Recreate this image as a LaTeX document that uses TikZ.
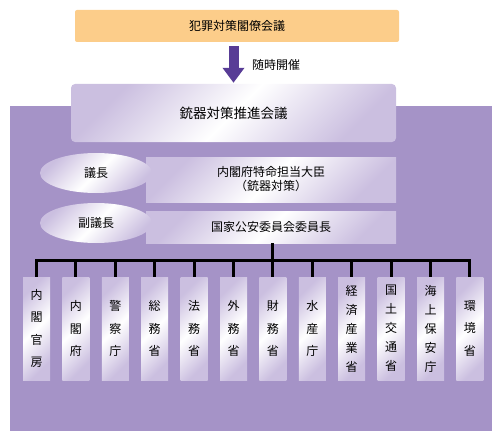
\documentclass[tikz,border=0pt]{standalone}
\usepackage{fontspec}
\newfontfamily\jp{Noto Sans CJK JP}
\usetikzlibrary{shapes.geometric,arrows.meta}
\definecolor{bgpurple}{RGB}{165,147,199}
\definecolor{lav}{RGB}{203,191,224}
\definecolor{orangebox}{RGB}{252,205,138}
\definecolor{arrowpurple}{RGB}{88,60,150}
\begin{document}
\begin{tikzpicture}[x=1pt,y=-1pt,
  shadebox/.style={shading=axis, top color=lav, bottom color=lav, middle color=white, shading angle=45, inner sep=0pt},
  minbox/.style={shadebox, rectangle, minimum width=27pt, minimum height=103pt, align=center, font=\jp\fontsize{12}{22.5}\selectfont},
  minbox5/.style={minbox, font=\jp\fontsize{12}{19}\selectfont},
  oval/.style={shadebox, ellipse, minimum width=112pt, minimum height=40pt, font=\jp\fontsize{12}{14}\selectfont},
  tree/.style={line width=3pt, black}]
\useasboundingbox (0,0) rectangle (502,441);
% purple background
\fill[bgpurple] (10,106) rectangle (492,431);
% top box
\node[fill=orangebox, rounded corners=2pt, minimum width=324pt, minimum height=32pt, inner sep=0pt, font=\jp\fontsize{12}{14}\selectfont] (top) at (237,26) {犯罪対策閣僚会議};
% meeting box
\node[shadebox, rounded corners=4pt, minimum width=325pt, minimum height=58pt, font=\jp\fontsize{13.5}{15}\selectfont] (mtg) at (233.5,113) {銃器対策推進会議};
% arrow
\draw[arrowpurple, line width=10pt, -{Triangle[width=21pt,length=15pt]}, shorten >=1pt] ([yshift=-4pt]mtg.north |- top.south) -- (mtg.north);
\node[anchor=west, inner sep=0pt, font=\jp\fontsize{12}{14}\selectfont] (rinji) at (252,65) {随時開催};
% chair boxes
\node[shadebox, minimum width=250pt, minimum height=45pt, align=center, font=\jp\fontsize{12}{14}\selectfont] (daijin) at (271,179.5) {内閣府特命担当大臣\\（銃器対策）};
\node[shadebox, minimum width=250pt, minimum height=32pt, font=\jp\fontsize{12}{14}\selectfont] (kokka) at (271,227) {\raisebox{-3pt}{国家公安委員会委員長}};
\node[oval] (gicho) at (96,173) {議長};
\node[oval] (fuku) at (96,223) {副議長};
% ministries
\node[minbox] (m1) at (36.5,328.5) {内\\閣\\官\\房};
\node[minbox] (m2) at (75.9,328.5) {内\\閣\\府};
\node[minbox] (m3) at (115.3,328.5) {警\\察\\庁};
\node[minbox] (m4) at (154.7,328.5) {総\\務\\省};
\node[minbox] (m5) at (194.1,328.5) {法\\務\\省};
\node[minbox] (m6) at (233.5,328.5) {外\\務\\省};
\node[minbox] (m7) at (272.9,328.5) {財\\務\\省};
\node[minbox] (m8) at (312.3,328.5) {水\\産\\庁};
\node[minbox5] (m9) at (351.7,328.5) {経\\済\\産\\業\\省};
\node[minbox5] (m10) at (391.1,328.5) {国\\土\\交\\通\\省};
\node[minbox5] (m11) at (430.5,328.5) {海\\上\\保\\安\\庁};
\node[minbox] (m12) at (469.9,328.5) {環\\境\\省};
% tree
\coordinate (bar) at (0,260);
\draw[tree] (m7.north |- kokka.south) -- (m7.north |- bar);
\draw[tree, line join=miter] (m1.north) -- (m1.north |- bar) -- (m12.north |- bar) -- (m12.north);
\foreach \k in {2,...,11} { \draw[tree] (m\k.north |- bar) -- (m\k.north); }
\end{tikzpicture}
\end{document}
